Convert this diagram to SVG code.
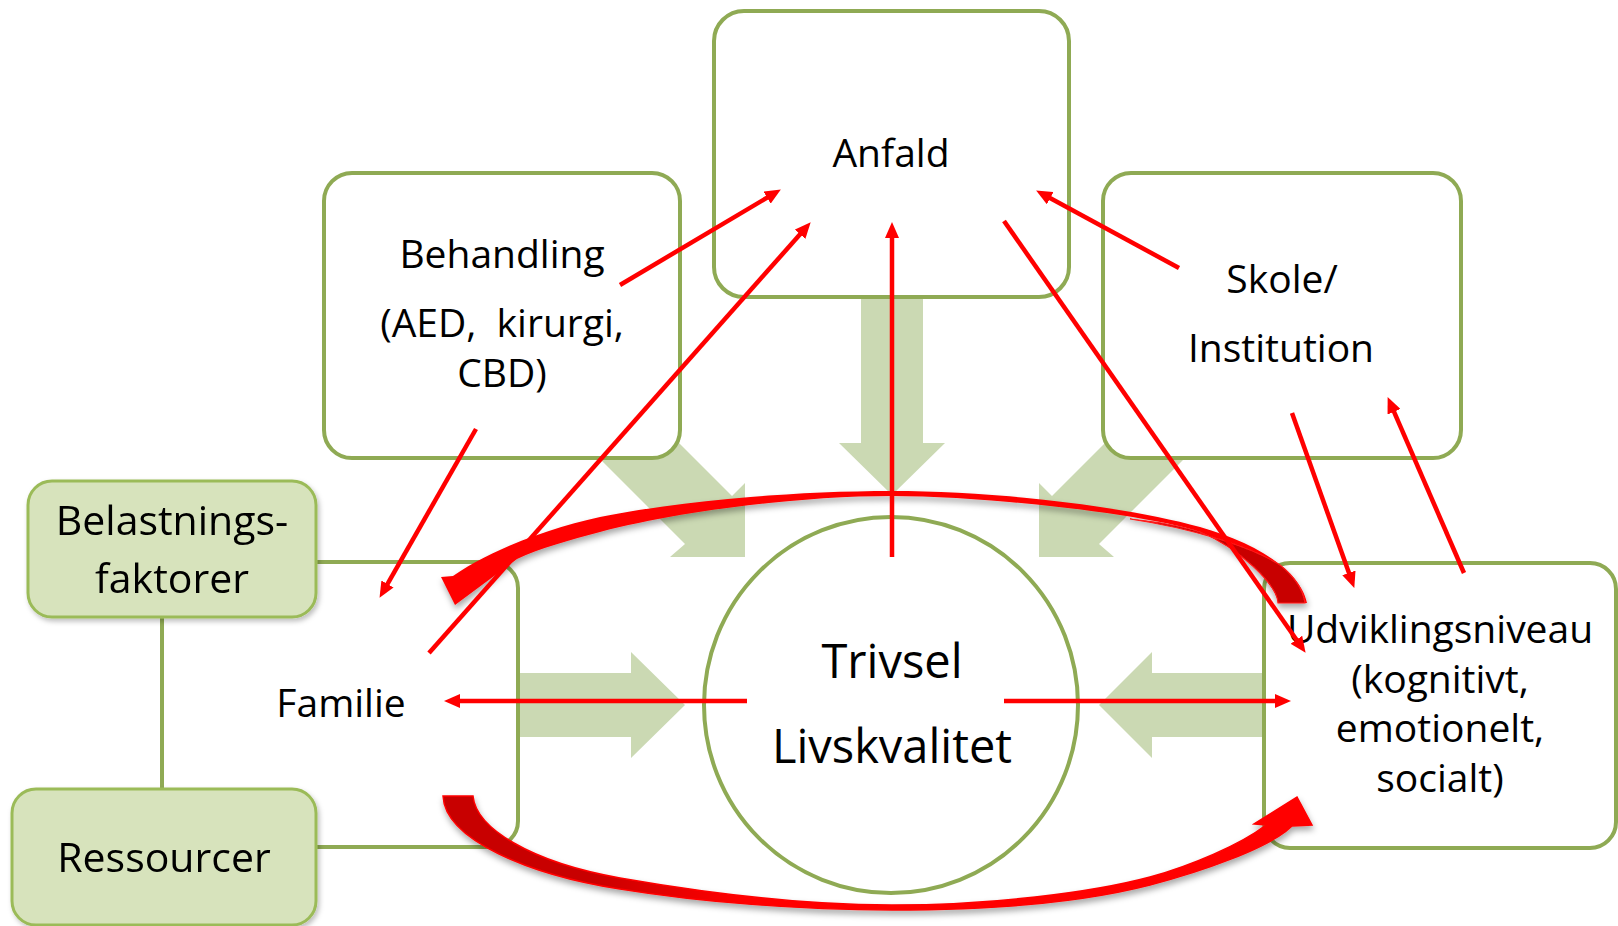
<svg xmlns="http://www.w3.org/2000/svg" width="1618" height="926" viewBox="0 0 1618 926">
<defs>
<style>
.box{fill:#ffffff;stroke:#8faa54;stroke-width:4}
.gbox{fill:#d7e3bc;stroke:#9bbb59;stroke-width:3}
.flow{fill:#cbd9b3}
.t{font-family:"Open Sans","Noto Sans",sans-serif;font-size:39px;fill:#000;text-anchor:middle;white-space:pre}
.red{stroke:#ff0000;stroke-width:4.5;fill:none;marker-end:url(#ah)}
</style>
<marker id="ah" viewBox="0 0 16 14" markerWidth="16" markerHeight="14" refX="5" refY="7" orient="auto" markerUnits="userSpaceOnUse">
<path d="M0,0 L16,7 L0,14 Z" fill="#ff0000"/>
</marker>
<filter id="sh" x="-10%" y="-10%" width="120%" height="130%">
<feDropShadow dx="1" dy="4" stdDeviation="3" flood-color="#000" flood-opacity="0.35"/>
</filter>
<filter id="bsh" x="-10%" y="-10%" width="120%" height="130%">
<feDropShadow dx="2" dy="3" stdDeviation="2.5" flood-color="#000" flood-opacity="0.25"/>
</filter>
<linearGradient id="botg" gradientUnits="userSpaceOnUse" x1="590" y1="0" x2="740" y2="0">
<stop offset="0" stop-color="#c80000"/>
<stop offset="1" stop-color="#ff0000"/>
</linearGradient>
</defs>

<g id="flow-arrows">
<polygon class="flow" points="861,290 923,290 923,443 945,443 892,495 839,443 861,443"/>
<polygon class="flow" points="745,557 745,483 732,496 642,406 595,454 685,544 670,557"/>
<polygon class="flow" points="1039,557 1039,483 1052,496 1142,406 1189,454 1099,544 1114,557"/>
<polygon class="flow" points="510,673 631,673 631,652 685,705 631,758 631,737 510,737"/>
<polygon class="flow" points="1272,673 1152,673 1152,652 1099,705 1152,758 1152,737 1272,737"/>
</g>

<g id="familie">
<rect class="box" x="162" y="562" width="356" height="285" rx="26"/>
<text class="t" x="341" y="717">Familie</text>
</g>
<g id="udviklingsniveau">
<rect class="box" x="1264" y="563" width="352" height="285" rx="26"/>
<text class="t" x="1440" y="643">Udviklingsniveau</text>
<text class="t" x="1440" y="693">(kognitivt,</text>
<text class="t" x="1440" y="742">emotionelt,</text>
<text class="t" x="1440" y="792">socialt)</text>
</g>
<g id="behandling">
<rect class="box" x="324" y="173" width="356" height="285" rx="28"/>
<text class="t" x="502" y="268">Behandling</text>
<text class="t" x="502" y="337">(AED,  kirurgi,</text>
<text class="t" x="502" y="387">CBD)</text>
</g>
<g id="anfald">
<rect class="box" x="714" y="11" width="355" height="286" rx="30"/>
<text class="t" x="891" y="167">Anfald</text>
</g>
<g id="skole">
<rect class="box" x="1103" y="173" width="358" height="285" rx="28"/>
<text class="t" x="1282" y="293">Skole/</text>
<text class="t" x="1281" y="362">Institution</text>
</g>
<g id="belastningsfaktorer" filter="url(#bsh)">
<rect class="gbox" x="28" y="481" width="288" height="136" rx="24"/>
<text class="t" x="172" y="535" style="font-size:41px">Belastnings-</text>
<text class="t" x="172" y="593" style="font-size:41px">faktorer</text>
</g>
<g id="ressourcer" filter="url(#bsh)">
<rect class="gbox" x="12" y="789" width="304" height="136" rx="24"/>
<text class="t" x="164" y="872" style="font-size:41px">Ressourcer</text>
</g>
<g id="trivsel">
<ellipse cx="891" cy="705" rx="187" ry="188" fill="#ffffff" stroke="#8faa54" stroke-width="4"/>
<text class="t" x="892" y="678" style="font-size:47px">Trivsel</text>
<text class="t" x="892" y="763" style="font-size:47px">Livskvalitet</text>
</g>

<g id="connectors">
<g filter="url(#sh)">
<path d="M453,576 C492,549 550,528 600,517 C680,501 792,491 892,491 C992,491 1120,505 1200,527 C1250,541 1300,568 1307,603 L1278,603 C1277,585 1240,548 1200,532 C1150,515 990,496 892,496 C800,496 680,511 600,532 C570,540 540,548 517,559 L455,605 L441,577 Z" fill="#ff0000"/>
<path d="M1130,519 C1190,528 1250,546 1280,565 C1295,577 1303,590 1305,603 L1278,603 C1277,585 1240,548 1200,532 C1175,524 1150,521 1130,519 Z" fill="#c80000" stroke="#ff1a1a" stroke-width="1.2"/>
<path d="M443,796 L473,796 C476,828 530,862 620,878 C700,892 800,905 892,905 C990,905 1090,893 1150,877 C1190,866 1240,845 1266,825 L1254,824 L1297,797 L1312,825 L1292,826 C1270,848 1200,872 1150,885 C1080,903 990,910 892,910 C800,910 700,902 620,889 C530,875 445,840 443,796 Z" fill="url(#botg)" stroke="#ff0000" stroke-width="1.5"/>
</g>
<line class="red" x1="620" y1="285" x2="771.4" y2="195.1"/>
<line class="red" x1="429" y1="653" x2="803.4" y2="230.5"/>
<line class="red" x1="476" y1="429" x2="385" y2="588.3"/>
<line class="red" x1="892" y1="557" x2="892" y2="233"/>
<line class="red" x1="1004" y1="221" x2="1299.3" y2="643.8"/>
<line class="red" x1="1179" y1="268" x2="1045.8" y2="195.8"/>
<line class="red" x1="1292" y1="413" x2="1350.6" y2="577.6"/>
<line class="red" x1="1464" y1="573" x2="1392" y2="407.2"/>
<line class="red" x1="747" y1="701" x2="455" y2="701"/>
<line class="red" x1="1004" y1="701" x2="1280" y2="701"/>
</g>
</svg>
